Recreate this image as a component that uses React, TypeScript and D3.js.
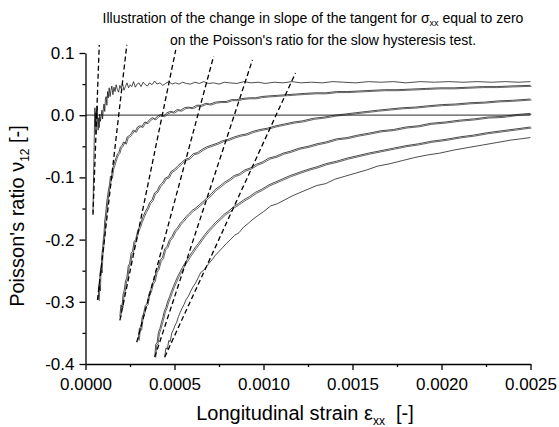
import { useEffect, useRef } from "react";
import * as d3 from "d3";

// axis ticks
const xTicks = [0, 0.0005, 0.001, 0.0015, 0.002, 0.0025];
const xMinor = [0.00025, 0.00075, 0.00125, 0.00175, 0.00225];
const yTicks = [-0.4, -0.3, -0.2, -0.1, 0.0, 0.1];
const yMinor = [-0.35, -0.25, -0.15, -0.05, 0.05];

// Poisson's ratio curves, [strain, nu]
const curve1 = [
  [0.000042, -0.157], [0.000044, -0.12], [0.000047, -0.075], [0.000049, -0.04], [0.000051, -0.005],
  [0.000053, 0.012], [0.000055, -0.018], [0.000057, 0.004], [0.000059, -0.03], [0.000061, 0.008],
  [0.000063, -0.006], [0.000066, 0.015], [0.000068, -0.012], [0.000071, -0.024], [0.000074, -0.004],
  [0.000077, -0.02], [0.00008, 0.002], [0.000084, -0.01], [0.000088, -0.002], [0.000092, 0.008],
  [0.000096, -0.006], [0.0001, 0.01], [0.000104, 0.018], [0.000108, 0.006], [0.000112, 0.026],
  [0.000116, 0.03], [0.00012, 0.016], [0.000124, 0.038], [0.000128, 0.028], [0.000133, 0.044],
  [0.000138, 0.03], [0.000143, 0.04], [0.000148, 0.047], [0.000154, 0.033], [0.00016, 0.045],
  [0.000166, 0.038], [0.000172, 0.049], [0.000179, 0.041], [0.000186, 0.037], [0.000193, 0.048],
  [0.0002, 0.043], [0.000208, 0.051], [0.000216, 0.04], [0.000224, 0.046], [0.000233, 0.052],
  [0.000242, 0.044], [0.000251, 0.049], [0.00026, 0.046], [0.00027, 0.054], [0.00028, 0.045],
  [0.00029, 0.05], [0.0003, 0.052], [0.000312, 0.046], [0.000324, 0.053], [0.000336, 0.049],
  [0.000348, 0.047], [0.00036, 0.052], [0.000374, 0.049], [0.000388, 0.055], [0.000402, 0.05],
  [0.000418, 0.052], [0.000434, 0.048], [0.00045, 0.051], [0.000468, 0.054], [0.000486, 0.05],
  [0.000505, 0.052], [0.000525, 0.05], [0.000545, 0.053], [0.000568, 0.051], [0.00059, 0.05],
  [0.000615, 0.053], [0.00064, 0.051], [0.000665, 0.054], [0.00069, 0.051], [0.00072, 0.052],
  [0.00075, 0.05], [0.00078, 0.053], [0.00081, 0.052], [0.00085, 0.051], [0.00089, 0.054],
  [0.00093, 0.052], [0.00097, 0.053], [0.00101, 0.051], [0.00106, 0.053], [0.00111, 0.052],
  [0.00116, 0.054], [0.00121, 0.052], [0.00127, 0.053], [0.00133, 0.052], [0.00139, 0.054],
  [0.00145, 0.053], [0.00152, 0.052], [0.00159, 0.054], [0.00166, 0.053], [0.00173, 0.054],
  [0.0018, 0.052], [0.00188, 0.054], [0.00196, 0.053], [0.00204, 0.054], [0.00212, 0.053],
  [0.0022, 0.054], [0.00228, 0.053], [0.00236, 0.054], [0.00243, 0.053], [0.0025, 0.054],
];

const curve2 = [
  [0.000072, -0.297], [0.000075, -0.272], [0.000078, -0.281], [0.000081, -0.258], [0.000085, -0.246],
  [0.000088, -0.252], [0.000092, -0.224], [0.000096, -0.214], [0.0001, -0.2], [0.000104, -0.19],
  [0.000108, -0.17], [0.000112, -0.162], [0.000116, -0.15], [0.00012, -0.138], [0.000125, -0.128],
  [0.00013, -0.118], [0.000135, -0.112], [0.00014, -0.098], [0.000146, -0.1], [0.000152, -0.086],
  [0.000158, -0.081], [0.000165, -0.074], [0.000172, -0.068], [0.00018, -0.062], [0.000188, -0.06],
  [0.000196, -0.051], [0.000205, -0.049], [0.000214, -0.043], [0.000224, -0.045], [0.000234, -0.035],
  [0.000245, -0.033], [0.000256, -0.03], [0.000268, -0.024], [0.00028, -0.026], [0.000292, -0.019],
  [0.000305, -0.017], [0.000318, -0.018], [0.000332, -0.011], [0.000346, -0.012], [0.00036, -0.007],
  [0.000375, -0.004], [0.00039, -0.006], [0.000406, -0.001], [0.000422, 0.001], [0.00044, -0.001],
  [0.000458, 0.004], [0.000476, 0.006], [0.000495, 0.005], [0.000515, 0.009], [0.000535, 0.008],
  [0.000556, 0.012], [0.000578, 0.013], [0.0006, 0.012], [0.000625, 0.016], [0.00065, 0.016],
  [0.000675, 0.019], [0.0007, 0.018], [0.00073, 0.021], [0.00076, 0.022], [0.00079, 0.022],
  [0.00082, 0.025], [0.00085, 0.025], [0.000885, 0.027], [0.00092, 0.028], [0.000955, 0.028],
  [0.00099, 0.03], [0.00103, 0.031], [0.00108, 0.032], [0.00113, 0.033], [0.00118, 0.034],
  [0.00123, 0.035], [0.00129, 0.036], [0.00135, 0.036], [0.00141, 0.038], [0.00147, 0.038],
  [0.00154, 0.039], [0.00161, 0.04], [0.00168, 0.041], [0.00175, 0.041], [0.00183, 0.042],
  [0.00191, 0.043], [0.00199, 0.044], [0.00207, 0.044], [0.00215, 0.045], [0.00223, 0.046],
  [0.00231, 0.046], [0.00239, 0.047], [0.0025, 0.048],
];

const curve3 = [
  [0.000193, -0.324], [0.000199, -0.305], [0.000205, -0.308], [0.000211, -0.288], [0.000218, -0.281],
  [0.000225, -0.266], [0.000232, -0.262], [0.00024, -0.243], [0.000248, -0.238], [0.000256, -0.222],
  [0.000264, -0.219], [0.000273, -0.203], [0.000282, -0.2], [0.000292, -0.187], [0.000302, -0.18],
  [0.000313, -0.171], [0.000324, -0.163], [0.000336, -0.155], [0.000348, -0.149], [0.000361, -0.14],
  [0.000374, -0.136], [0.000388, -0.125], [0.000402, -0.122], [0.000417, -0.113], [0.000432, -0.109],
  [0.000448, -0.101], [0.000465, -0.099], [0.000482, -0.09], [0.0005, -0.087], [0.00052, -0.081],
  [0.00054, -0.076], [0.00056, -0.071], [0.000582, -0.069], [0.000605, -0.062], [0.00063, -0.06],
  [0.000655, -0.055], [0.00068, -0.051], [0.00071, -0.048], [0.00074, -0.045], [0.00077, -0.041],
  [0.0008, -0.039], [0.000835, -0.035], [0.00087, -0.032], [0.000905, -0.03], [0.00094, -0.026],
  [0.00098, -0.023], [0.00102, -0.021], [0.00107, -0.017], [0.00112, -0.014], [0.00117, -0.011],
  [0.00122, -0.009], [0.00128, -0.005], [0.00134, -0.003], [0.0014, 0.0], [0.00146, 0.002],
  [0.00152, 0.004], [0.00158, 0.006], [0.00164, 0.008], [0.00171, 0.01], [0.00178, 0.012],
  [0.00185, 0.013], [0.00192, 0.015], [0.002, 0.017], [0.00208, 0.018], [0.00216, 0.02],
  [0.00224, 0.021], [0.00232, 0.023], [0.0024, 0.024], [0.0025, 0.026],
];

const curve4 = [
  [0.000296, -0.361], [0.000303, -0.342], [0.00031, -0.344], [0.000318, -0.325], [0.000327, -0.318],
  [0.000336, -0.306], [0.000346, -0.303], [0.000356, -0.288], [0.000366, -0.281], [0.000376, -0.27],
  [0.000386, -0.266], [0.000397, -0.251], [0.000408, -0.246], [0.00042, -0.233], [0.000432, -0.229],
  [0.000445, -0.215], [0.000458, -0.211], [0.000472, -0.2], [0.000486, -0.195], [0.000501, -0.186],
  [0.000516, -0.181], [0.000532, -0.174], [0.000548, -0.169], [0.000565, -0.163], [0.000582, -0.158],
  [0.0006, -0.153], [0.00062, -0.149], [0.00064, -0.144], [0.00066, -0.139], [0.000682, -0.133],
  [0.000705, -0.127], [0.00073, -0.119], [0.000755, -0.114], [0.00078, -0.108], [0.000808, -0.103],
  [0.000836, -0.097], [0.000865, -0.094], [0.000895, -0.088], [0.000925, -0.085], [0.00096, -0.079],
  [0.000995, -0.075], [0.00103, -0.069], [0.00107, -0.066], [0.00111, -0.061], [0.00115, -0.058],
  [0.0012, -0.053], [0.00125, -0.05], [0.0013, -0.046], [0.00135, -0.043], [0.00141, -0.038],
  [0.00147, -0.036], [0.00153, -0.032], [0.00159, -0.029], [0.00166, -0.025], [0.00173, -0.023],
  [0.0018, -0.019], [0.00187, -0.017], [0.00194, -0.013], [0.00202, -0.011], [0.0021, -0.008],
  [0.00218, -0.006], [0.00226, -0.003], [0.00234, -0.002], [0.00242, 0.001], [0.0025, 0.003],
];

const curve5 = [
  [0.000389, -0.388], [0.000395, -0.368], [0.000402, -0.366], [0.00041, -0.349], [0.000418, -0.343],
  [0.000426, -0.334], [0.000434, -0.326], [0.000443, -0.315], [0.000452, -0.309], [0.000462, -0.299],
  [0.000472, -0.292], [0.000483, -0.283], [0.000494, -0.275], [0.000506, -0.267], [0.000518, -0.259],
  [0.000531, -0.252], [0.000544, -0.245], [0.000558, -0.238], [0.000572, -0.232], [0.000587, -0.225],
  [0.000602, -0.219], [0.000618, -0.212], [0.000635, -0.206], [0.000652, -0.199], [0.00067, -0.192],
  [0.00069, -0.185], [0.00071, -0.179], [0.000732, -0.172], [0.000755, -0.166], [0.00078, -0.159],
  [0.000805, -0.154], [0.000832, -0.147], [0.00086, -0.142], [0.00089, -0.136], [0.00092, -0.131],
  [0.000955, -0.124], [0.00099, -0.119], [0.00103, -0.112], [0.00107, -0.107], [0.00111, -0.102],
  [0.00115, -0.097], [0.0012, -0.092], [0.00125, -0.087], [0.0013, -0.083], [0.00135, -0.078],
  [0.00141, -0.074], [0.00147, -0.069], [0.00153, -0.065], [0.00159, -0.061], [0.00166, -0.057],
  [0.00173, -0.053], [0.0018, -0.049], [0.00187, -0.046], [0.00194, -0.042], [0.00202, -0.039],
  [0.0021, -0.035], [0.00218, -0.032], [0.00226, -0.028], [0.00234, -0.025], [0.00242, -0.022],
  [0.0025, -0.019],
];

const curve6 = [
  [0.000445, -0.388], [0.000452, -0.374], [0.00046, -0.376], [0.000468, -0.362], [0.000476, -0.364],
  [0.000485, -0.35], [0.000494, -0.345], [0.000503, -0.338], [0.000512, -0.333], [0.000522, -0.324],
  [0.000532, -0.317], [0.000543, -0.31], [0.000554, -0.304], [0.000566, -0.296], [0.000578, -0.291],
  [0.000591, -0.283], [0.000604, -0.276], [0.000618, -0.27], [0.000632, -0.262], [0.000647, -0.253],
  [0.000662, -0.25], [0.000678, -0.244], [0.000694, -0.238], [0.000712, -0.232], [0.00073, -0.225],
  [0.00075, -0.219], [0.00077, -0.213], [0.000792, -0.206], [0.000814, -0.2], [0.000838, -0.193],
  [0.000862, -0.189], [0.000888, -0.18], [0.000914, -0.174], [0.000942, -0.167], [0.00097, -0.161],
  [0.001, -0.155], [0.00104, -0.146], [0.00108, -0.142], [0.00112, -0.136], [0.00116, -0.13],
  [0.0012, -0.125], [0.00125, -0.119], [0.0013, -0.113], [0.00135, -0.11], [0.0014, -0.103],
  [0.00146, -0.098], [0.00152, -0.093], [0.00158, -0.088], [0.00164, -0.082], [0.00171, -0.078],
  [0.00178, -0.073], [0.00185, -0.068], [0.00192, -0.064], [0.00199, -0.061], [0.00207, -0.056],
  [0.00215, -0.052], [0.00223, -0.048], [0.00231, -0.044], [0.00239, -0.04], [0.0025, -0.036],
];

// dashed tangents at sigma_xx = 0, [start, end]
const tangents = [
  [[0.000042, -0.16], [0.0000773, 0.113]],
  [[0.0000672, -0.297], [0.000232, 0.113]],
  [[0.000193, -0.33], [0.000507, 0.105]],
  [[0.000288, -0.365], [0.00072, 0.095]],
  [[0.000389, -0.389], [0.000938, 0.089]],
  [[0.000445, -0.389], [0.00118, 0.068]],
];

// which curves carry a second (unloading) trace
const curves = [curve1, curve2, curve3, curve4, curve5, curve6];
const doubled = [false, true, true, true, true, false];

export default function App() {
  const chartRef = useRef<SVGSVGElement>(null);

  useEffect(() => {
    const width = 559;
    const height = 427;
    const margin = { top: 53, right: 28.5, bottom: 63, left: 85.5 };
    const font = "'Liberation Sans', Arial, sans-serif";

    const svg = d3.select(chartRef.current);
    svg.selectAll("*").remove();

    const x = d3.scaleLinear().domain([0, 0.0025]).range([margin.left, width - margin.right]);
    const y = d3.scaleLinear().domain([-0.4, 0.1]).range([height - margin.bottom, margin.top]);

    const line = d3
      .line<number[]>()
      .x((d) => x(d[0]))
      .y((d) => y(d[1]));

    // zero line
    svg
      .append("line")
      .attr("x1", x(0))
      .attr("x2", x(0.0025))
      .attr("y1", y(0))
      .attr("y2", y(0))
      .attr("stroke", "#555")
      .attr("stroke-width", 1.2);

    // measured curves
    curves.forEach((c, i) => {
      svg
        .append("path")
        .attr("d", line(c))
        .attr("fill", "none")
        .attr("stroke", "#111")
        .attr("stroke-width", 0.75);
      if (doubled[i]) {
        svg
          .append("path")
          .attr("d", line(c))
          .attr("transform", "translate(1,1)")
          .attr("fill", "none")
          .attr("stroke", "#222")
          .attr("stroke-width", 0.7);
      }
    });

    // tangents
    svg
      .selectAll(".tangent")
      .data(tangents)
      .enter()
      .append("path")
      .attr("class", "tangent")
      .attr("d", (d) => line(d))
      .attr("fill", "none")
      .attr("stroke", "#000")
      .attr("stroke-width", 1.3)
      .attr("stroke-dasharray", "5,3");

    // x axis
    const xg = svg
      .append("g")
      .attr("transform", `translate(0,${height - margin.bottom})`)
      .call(
        d3
          .axisBottom(x)
          .tickValues(xTicks)
          .tickFormat((d) => (+d).toFixed(4))
          .tickSize(6)
          .tickSizeOuter(0)
          .tickPadding(8)
      );
    xg.append("g").call(
      d3.axisBottom(x).tickValues(xMinor).tickSize(3).tickFormat(() => "")
    );

    // y axis
    const yg = svg
      .append("g")
      .attr("transform", `translate(${margin.left},0)`)
      .call(
        d3
          .axisLeft(y)
          .tickValues(yTicks)
          .tickFormat((d) => (+d).toFixed(1))
          .tickSize(6)
          .tickSizeOuter(0)
          .tickPadding(5)
      );
    yg.append("g").call(
      d3.axisLeft(y).tickValues(yMinor).tickSize(3).tickFormat(() => "")
    );

    [xg, yg].forEach((g) => {
      g.selectAll("g g .domain").remove();
      g.selectAll("path, line").attr("stroke", "#000").attr("stroke-width", 1.3);
      g.selectAll("text").style("font-size", "17px").style("font-family", font).attr("fill", "#000");
    });

    // title
    const t1 = svg
      .append("text")
      .attr("x", 313)
      .attr("y", 23)
      .attr("text-anchor", "middle")
      .style("font-family", font)
      .style("font-size", "14px");
    t1.append("tspan").text("Illustration of the change in slope of the tangent for σ");
    t1.append("tspan").attr("dy", 3).style("font-size", "9px").text("xx");
    t1.append("tspan").attr("dy", -3).text(" equal to zero");

    svg
      .append("text")
      .attr("x", 323)
      .attr("y", 44.5)
      .attr("text-anchor", "middle")
      .style("font-family", font)
      .style("font-size", "14px")
      .text("on the Poisson's ratio for the slow hysteresis test.");

    // x axis label
    const xl = svg
      .append("text")
      .attr("x", 305)
      .attr("y", 420)
      .attr("text-anchor", "middle")
      .style("font-family", font)
      .style("font-size", "20px");
    xl.append("tspan").text("Longitudinal strain ε");
    xl.append("tspan").attr("dy", 5).style("font-size", "12px").text("xx");
    xl.append("tspan").attr("dy", -5).text("\u00a0\u00a0[-]");

    // y axis label
    const yl = svg
      .append("text")
      .attr("transform", "translate(24,216) rotate(-90)")
      .attr("text-anchor", "middle")
      .style("font-family", font)
      .style("font-size", "20px");
    yl.append("tspan").text("Poisson's ratio ν");
    yl.append("tspan").attr("dy", 5).style("font-size", "12px").text("12");
    yl.append("tspan").attr("dy", -5).text("\u00a0[-]");
  }, []);

  return (
    <svg
      ref={chartRef}
      width={559}
      height={427}
      style={{ position: "absolute", left: 0, top: 0, background: "#fff" }}
    />
  );
}
